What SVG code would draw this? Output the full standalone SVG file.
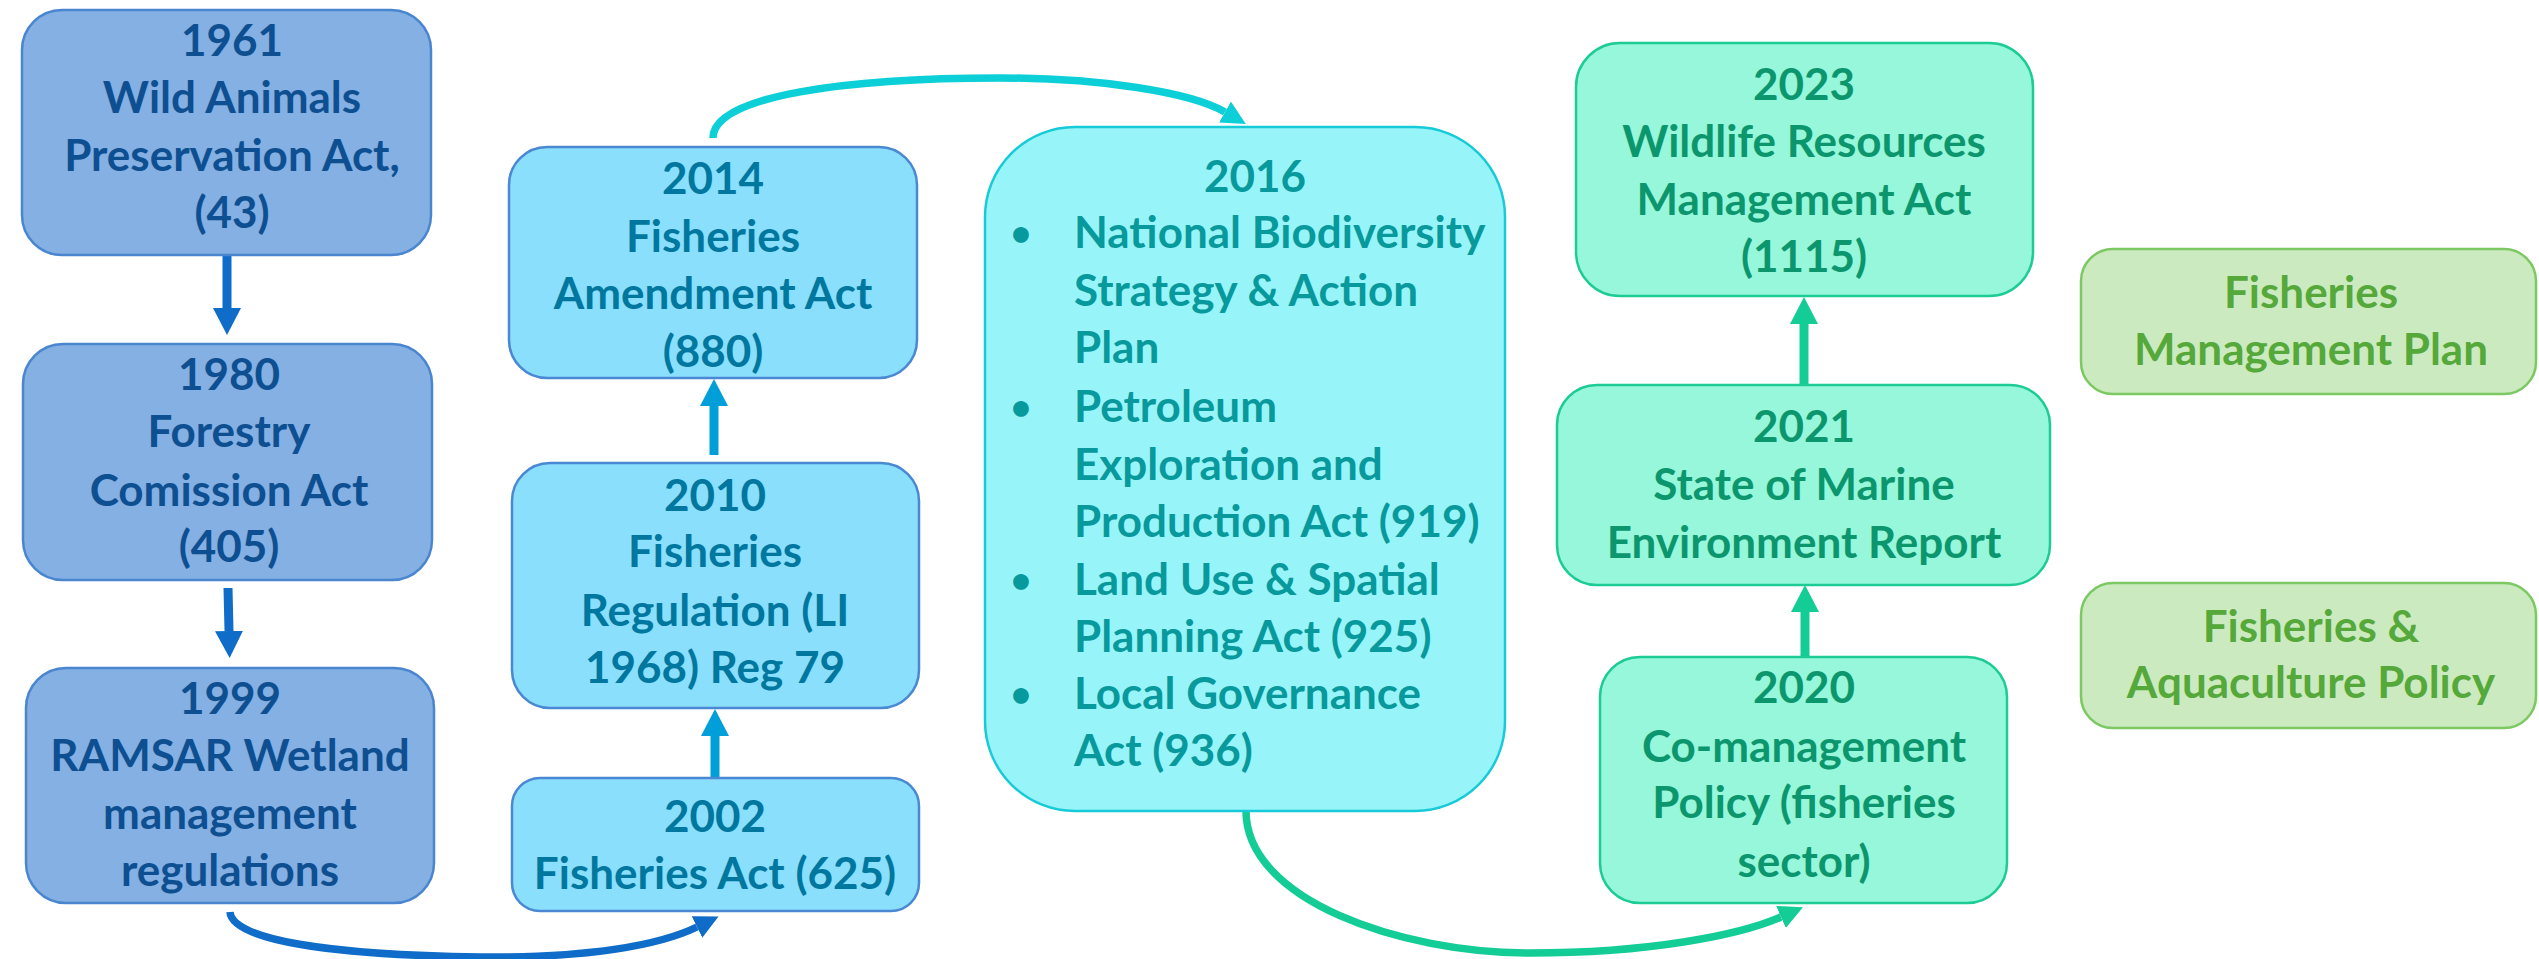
<svg xmlns="http://www.w3.org/2000/svg" width="2539" height="959" viewBox="0 0 2539 959">
<style>
text{font-family:Lato,"Liberation Sans",sans-serif;font-weight:bold;font-size:44px;text-anchor:middle}
.b1 rect{fill:#84B0E3;stroke:#4A86D0;stroke-width:2.5}
.b1 text{fill:#0D4F90}
.b2 rect{fill:#8ADFFD;stroke:#4A88D4;stroke-width:2.5}
.b2 text{fill:#00779F}
.b3 rect{fill:#97F5F9;stroke:#17CAD8;stroke-width:2.5}
.b3 text{fill:#08999D}
.b4 rect{fill:#96F7DA;stroke:#1CCC94;stroke-width:2.5}
.b4 text{fill:#0C966E}
.b5 rect{fill:#CCEAC0;stroke:#7CC863;stroke-width:2.5}
.b5 text{fill:#55A83A}
.lt{text-anchor:start}
.bul{font-size:36px}
#connectors path{fill:none}
</style>
<defs>
<marker id="hBlue" markerUnits="userSpaceOnUse" markerWidth="28" markerHeight="28" refX="0" refY="14" orient="auto"><path d="M0,0 L27,14 L0,28 z" fill="#0F6CC8"/></marker>
<marker id="hLight" markerUnits="userSpaceOnUse" markerWidth="28" markerHeight="28" refX="0" refY="14" orient="auto"><path d="M0,0 L27,14 L0,28 z" fill="#009FD9"/></marker>
<marker id="hGreen" markerUnits="userSpaceOnUse" markerWidth="28" markerHeight="28" refX="0" refY="14" orient="auto"><path d="M0,0 L27,14 L0,28 z" fill="#14CC96"/></marker>
<marker id="cBlue" markerUnits="userSpaceOnUse" markerWidth="26" markerHeight="26" refX="0" refY="12" orient="auto"><path d="M0,0 L24,12 L0,24 z" fill="#0F6CC8"/></marker>
<marker id="cCyan" markerUnits="userSpaceOnUse" markerWidth="26" markerHeight="26" refX="0" refY="12" orient="auto"><path d="M0,0 L24,12 L0,24 z" fill="#0DCFD8"/></marker>
<marker id="cGreen" markerUnits="userSpaceOnUse" markerWidth="26" markerHeight="26" refX="0" refY="12" orient="auto"><path d="M0,0 L24,12 L0,24 z" fill="#14CC96"/></marker>
</defs>

<g id="connectors">
<path d="M227,255 L227,308" stroke="#0F6CC8" stroke-width="9" marker-end="url(#hBlue)"/>
<path d="M228,588 L229,631" stroke="#0F6CC8" stroke-width="9" marker-end="url(#hBlue)"/>
<path d="M715,778 L715,736" stroke="#009FD9" stroke-width="9" marker-end="url(#hLight)"/>
<path d="M714,455 L714,406" stroke="#009FD9" stroke-width="9" marker-end="url(#hLight)"/>
<path d="M1805,657 L1805,612" stroke="#14CC96" stroke-width="9" marker-end="url(#hGreen)"/>
<path d="M1804,385 L1804,324" stroke="#14CC96" stroke-width="9" marker-end="url(#hGreen)"/>
<path d="M230,912 C232,940 330,955 480,957 C590,958 660,945 697,927" stroke="#0F6CC8" stroke-width="7.5" marker-end="url(#cBlue)"/>
<path d="M713,138 C713,95 850,78 1000,78 C1100,78 1190,92 1225,112" stroke="#0DCFD8" stroke-width="7.5" marker-end="url(#cCyan)"/>
<path d="M1246,811 C1246,900 1400,953 1530,953 C1650,953 1740,935 1781,917" stroke="#14CC96" stroke-width="7.5" marker-end="url(#cGreen)"/>
</g>

<g id="n1961" class="b1">
<rect x="22" y="10" width="409" height="245" rx="40"/>
<text x="232" y="56">1961</text>
<text x="232" y="113">Wild Animals</text>
<text x="232" y="171">Preservation Act,</text>
<text x="232" y="228">(43)</text>
</g>
<g id="n1980" class="b1">
<rect x="23" y="344" width="409" height="236" rx="40"/>
<text x="229" y="390">1980</text>
<text x="229" y="447">Forestry</text>
<text x="229" y="506">Comission Act</text>
<text x="229" y="562">(405)</text>
</g>
<g id="n1999" class="b1">
<rect x="26" y="668" width="408" height="235" rx="40"/>
<text x="230" y="714">1999</text>
<text x="230" y="771">RAMSAR Wetland</text>
<text x="230" y="829">management</text>
<text x="230" y="886">regulations</text>
</g>

<g id="n2014" class="b2">
<rect x="509" y="147" width="408" height="231" rx="38"/>
<text x="713" y="194">2014</text>
<text x="713" y="252">Fisheries</text>
<text x="713" y="309">Amendment Act</text>
<text x="713" y="367">(880)</text>
</g>
<g id="n2010" class="b2">
<rect x="512" y="463" width="407" height="245" rx="38"/>
<text x="715" y="511">2010</text>
<text x="715" y="567">Fisheries</text>
<text x="715" y="626">Regulation (LI</text>
<text x="715" y="683">1968) Reg 79</text>
</g>
<g id="n2002" class="b2">
<rect x="512" y="778" width="407" height="133" rx="28"/>
<text x="715" y="832">2002</text>
<text x="715" y="889">Fisheries Act (625)</text>
</g>

<g id="n2016" class="b3">
<rect x="985" y="127" width="520" height="684" rx="90"/>
<text x="1255" y="192">2016</text>
<text class="bul" x="1021" y="246">•</text>
<text class="bul" x="1021" y="420">•</text>
<text class="bul" x="1021" y="593">•</text>
<text class="bul" x="1021" y="707">•</text>
<text class="lt" x="1074" y="248">National Biodiversity</text>
<text class="lt" x="1074" y="306">Strategy &amp; Action</text>
<text class="lt" x="1074" y="363">Plan</text>
<text class="lt" x="1074" y="422">Petroleum</text>
<text class="lt" x="1074" y="480">Exploration and</text>
<text class="lt" x="1074" y="537">Production Act (919)</text>
<text class="lt" x="1074" y="595">Land Use &amp; Spatial</text>
<text class="lt" x="1074" y="652">Planning Act (925)</text>
<text class="lt" x="1074" y="709">Local Governance</text>
<text class="lt" x="1074" y="766">Act (936)</text>
</g>

<g id="n2023" class="b4">
<rect x="1576" y="43" width="457" height="253" rx="44"/>
<text x="1804" y="100">2023</text>
<text x="1804" y="157">Wildlife Resources</text>
<text x="1804" y="215">Management Act</text>
<text x="1804" y="272">(1115)</text>
</g>
<g id="n2021" class="b4">
<rect x="1557" y="385" width="493" height="200" rx="40"/>
<text x="1804" y="442">2021</text>
<text x="1804" y="500">State of Marine</text>
<text x="1804" y="558">Environment Report</text>
</g>
<g id="n2020" class="b4">
<rect x="1600" y="657" width="407" height="246" rx="40"/>
<text x="1804" y="703">2020</text>
<text x="1804" y="762">Co-management</text>
<text x="1804" y="818">Policy (fisheries</text>
<text x="1804" y="877">sector)</text>
</g>

<g id="nFMP" class="b5">
<rect x="2081" y="249" width="455" height="145" rx="32"/>
<text x="2311" y="308">Fisheries</text>
<text x="2311" y="365">Management Plan</text>
</g>
<g id="nFAP" class="b5">
<rect x="2081" y="583" width="455" height="145" rx="32"/>
<text x="2311" y="642">Fisheries &amp;</text>
<text x="2311" y="698">Aquaculture Policy</text>
</g>
</svg>
